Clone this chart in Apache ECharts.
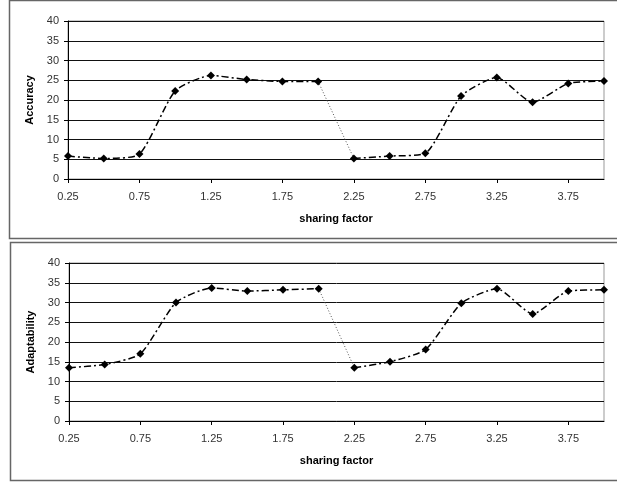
<!DOCTYPE html>
<html><head><meta charset="utf-8">
<script src="https://cdn.jsdelivr.net/npm/echarts@6/dist/echarts.min.js"></script>
<style>html,body{margin:0;padding:0;background:#fff}#c{width:617px;height:482px}</style>
</head><body><div id="c"></div>
<script>
const categories = ["0.25","0.5","0.75","1","1.25","1.5","1.75","2","2.25","2.5","2.75","3","3.25","3.5","3.75","4"];
const accuracy = [5.8,5.2,6.3,22.3,26.2,25.2,24.7,24.7,5.2,5.8,6.5,21.0,25.7,19.4,24.2,24.8];
const adaptability = [13.5,14.3,17.0,30.0,33.7,32.9,33.2,33.5,13.5,15.0,18.1,29.8,33.5,27.1,32.9,33.2];
const yTicks = {min:0, max:40, interval:5};
const xTitle = "sharing factor";
const yTitles = ["Accuracy","Adaptability"];

const font = "Liberation Sans, Arial, sans-serif";
const chart = echarts.init(document.getElementById('c'), null, {renderer:'canvas'});

function part(arr, from, to){ return arr.map((v,i)=> (i>=from && i<=to) ? v : '-'); }

const grids = [
  {left:68, right:13, top:21, height:158, show:true, borderColor:'#999', borderWidth:1},
  {left:69, right:13, top:263, height:158, show:true, borderColor:'#999', borderWidth:1}
];
const xAxes = grids.map((g,i)=>({
  type:'category', gridIndex:i, data:categories, boundaryGap:false,
  name:xTitle, nameLocation:'middle', nameGap:34,
  nameTextStyle:{fontFamily:font, fontSize:11, fontWeight:'bold', color:'#000'},
  axisLine:{lineStyle:{color:'#000', width:1}},
  axisTick:{show:true, interval:1, length:4, lineStyle:{color:'#000'}},
  axisLabel:{interval:1, fontFamily:font, fontSize:11, color:'#333', margin:12},
  splitLine:{show:false}
}));
const yAxes = grids.map((g,i)=>({
  type:'value', gridIndex:i, min:yTicks.min, max:yTicks.max, interval:yTicks.interval,
  name:yTitles[i], nameLocation:'middle', nameGap:32, nameRotate:90,
  nameTextStyle:{fontFamily:font, fontSize:11, fontWeight:'bold', color:'#000'},
  axisLine:{show:true, lineStyle:{color:'#000', width:1}},
  axisTick:{show:true, length:4, lineStyle:{color:'#000'}},
  axisLabel:{fontFamily:font, fontSize:11, color:'#333', margin:9},
  splitLine:{show:true, lineStyle:{color:'#111', width:1}}
}));

const series = [];
[accuracy, adaptability].forEach((arr, gi)=>{
  const base = {type:'line', xAxisIndex:gi, yAxisIndex:gi, smooth:0.2, connectNulls:false,
    lineStyle:{color:'#000', width:1.5, type:[7,3,2,3]}, symbol:'diamond', symbolSize:8,
    itemStyle:{color:'#000'}, z:3, animation:false};
  series.push(Object.assign({}, base, {data:part(arr,0,7)}));
  series.push(Object.assign({}, base, {data:part(arr,8,15)}));
  series.push(Object.assign({}, base, {data:part(arr,7,8), symbol:'none', smooth:false,
    lineStyle:{color:'#555', width:1, type:[1,2]}, z:2}));
});

chart.setOption({
  animation:false,
  backgroundColor:'#fff',
  grid:grids, xAxis:xAxes, yAxis:yAxes, series:series,
  graphic:[
    {type:'rect', shape:{x:9.5, y:0.5, width:620, height:238}, style:{fill:'none', stroke:'#666', lineWidth:1.5}, z:-1},
    {type:'rect', shape:{x:10.5, y:242.5, width:620, height:238}, style:{fill:'none', stroke:'#666', lineWidth:1.5}, z:-1}
  ]
});
</script></body></html>
